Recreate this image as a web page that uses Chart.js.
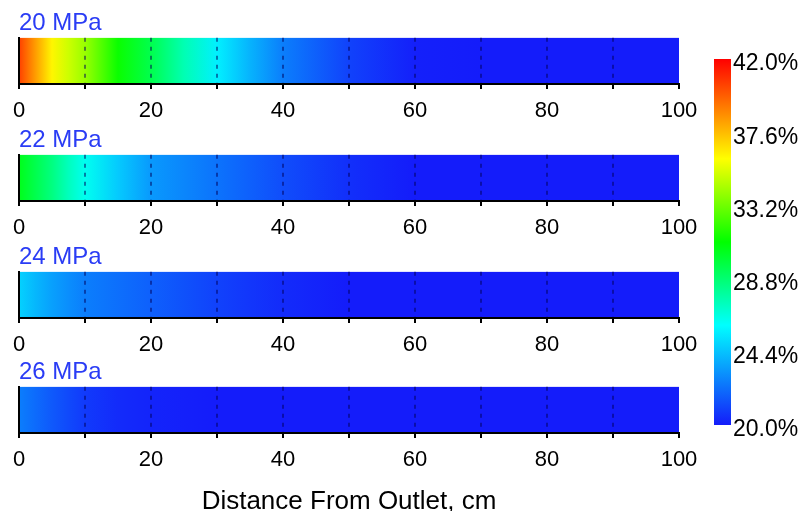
<!doctype html>
<html lang="en">
<head>
<meta charset="utf-8">
<title>Fraction along distance from outlet</title>
<script src="https://cdn.jsdelivr.net/npm/chart.js@4.4.0/dist/chart.umd.min.js"></script>
<style>
  body { margin: 0; background: #fff; }
  #wrap { position: relative; width: 803px; height: 511px; overflow: hidden; }
  #wrap canvas { position: absolute; }
</style>
</head>
<body>
<div id="wrap">
  <canvas id="strip0" width="720" height="124" style="left:0;top:0"></canvas>
  <canvas id="strip1" width="720" height="124" style="left:0;top:117px"></canvas>
  <canvas id="strip2" width="720" height="124" style="left:0;top:234px"></canvas>
  <canvas id="strip3" width="720" height="170" style="left:0;top:349px"></canvas>
  <canvas id="cbar" width="103" height="511" style="left:700px;top:0"></canvas>
</div>
<script>
  // sample positions along the core (cm) and the value read at each one (%)
  const distance = [0, 2.5, 5, 7.5, 10, 15, 20, 25, 30, 35, 40, 50, 60, 70, 80, 90, 100];
  const pressures = ['20 MPa', '22 MPa', '24 MPa', '26 MPa'];
  const frac20 = [40.5, 38.3, 36.2, 35.0, 34.0, 31.2, 29.5, 27.5, 25.6, 24.0, 22.6, 21.0, 20.1, 20.0, 20.0, 20.0, 20.0];
  const frac22 = [30.5, 29.5, 28.5, 27.3, 26.3, 24.6, 23.3, 22.8, 22.3, 21.8, 21.3, 20.5, 20.0, 20.0, 20.0, 20.0, 20.0];
  const frac24 = [24.8, 24.1, 23.5, 23.0, 22.6, 22.2, 21.8, 21.4, 21.0, 20.7, 20.4, 20.0, 20.0, 20.0, 20.0, 20.0, 20.0];
  const frac26 = [22.6, 22.1, 21.6, 21.2, 20.8, 20.4, 20.2, 20.1, 20.0, 20.0, 20.0, 20.0, 20.0, 20.0, 20.0, 20.0, 20.0];
  const series = [frac20, frac22, frac24, frac26];
  const majorTicks = [0, 20, 40, 60, 80, 100];
  const scaleTicks = [20.0, 24.4, 28.8, 33.2, 37.6, 42.0];

  // jet-like colour map shared by the strips and the colour bar
  const cmapAt = [20, 26, 31, 36, 42];
  const cmapRgb = [[20, 28, 250], [0, 255, 255], [0, 255, 0], [255, 255, 0], [255, 0, 0]];

  function rgb(c) {
    return 'rgb(' + c.map(Math.round).join(',') + ')';
  }

  function colourFor(v) {
    if (v <= cmapAt[0]) return rgb(cmapRgb[0]);
    for (let i = 1; i < cmapAt.length; i++) {
      if (v <= cmapAt[i]) {
        const t = (v - cmapAt[i - 1]) / (cmapAt[i] - cmapAt[i - 1]);
        const a = cmapRgb[i - 1], b = cmapRgb[i];
        return rgb(a.map((c, k) => c + (b[k] - c) * t));
      }
    }
    return rgb(cmapRgb[cmapRgb.length - 1]);
  }

  Chart.defaults.font.family = '"Liberation Sans", Arial, sans-serif';
  Chart.defaults.color = '#000';

  function stripChart(idx) {
    const values = series[idx];
    const last = idx === series.length - 1;
    new Chart(document.getElementById('strip' + idx), {
      type: 'bar',
      data: {
        labels: [''],
        datasets: [{
          data: [[distance[0], distance[distance.length - 1]]],
          // fill the bar with the measured profile, stops placed by the x scale
          backgroundColor: (ctx) => {
            const chart = ctx.chart;
            if (!chart.chartArea) return colourFor(values[0]);
            const x = chart.scales.x;
            const x0 = x.getPixelForValue(distance[0]);
            const x1 = x.getPixelForValue(distance[distance.length - 1]);
            const g = chart.ctx.createLinearGradient(x0, 0, x1, 0);
            distance.forEach((d, i) => {
              g.addColorStop((x.getPixelForValue(d) - x0) / (x1 - x0), colourFor(values[i]));
            });
            return g;
          },
          borderWidth: 0,
          barPercentage: 1,
          categoryPercentage: 1
        }]
      },
      options: {
        indexAxis: 'y',
        responsive: false,
        animation: false,
        devicePixelRatio: 1,
        layout: { padding: { left: 19, right: 41, top: 0, bottom: 0 } },
        plugins: {
          legend: { display: false },
          tooltip: { enabled: false },
          title: {
            display: true,
            text: pressures[idx],
            align: 'start',
            color: '#2a3cf5',
            font: { size: 24, weight: 'normal' },
            padding: { top: 9, bottom: 0 }
          }
        },
        scales: {
          x: {
            type: 'linear',
            min: 0,
            max: 100,
            afterFit: (s) => { s.height = last ? 86 : 40; },
            ticks: {
              stepSize: 10,
              autoSkip: false,
              maxRotation: 0,
              padding: 9,
              font: { size: 22 },
              color: '#000',
              callback: (v) => majorTicks.includes(v) ? String(v) : ''
            },
            grid: {
              color: (c) => (c.tick && (c.tick.value === 0 || c.tick.value === 100)) ? 'rgba(0,0,0,0)' : 'rgba(0,0,90,0.5)',
              lineWidth: 2,
              z: 1,
              drawTicks: true,
              tickLength: 5,
              tickColor: '#000',
              tickWidth: 2,
              tickBorderDash: []
            },
            border: { display: true, color: '#000', width: 2, dash: [4, 5], z: 1 },
            title: {
              display: last,
              text: 'Distance From Outlet, cm',
              font: { size: 26 },
              color: '#000',
              padding: { top: 0, bottom: 2 }
            }
          },
          y: {
            grid: { display: false, drawTicks: false },
            ticks: { display: false },
            border: { display: true, color: '#000', width: 2, z: 1 }
          }
        }
      }
    });
  }

  series.forEach((s, i) => stripChart(i));

  // colour bar
  new Chart(document.getElementById('cbar'), {
    type: 'bar',
    data: {
      labels: [''],
      datasets: [{
        data: [[scaleTicks[0], scaleTicks[scaleTicks.length - 1]]],
        backgroundColor: (ctx) => {
          const chart = ctx.chart;
          if (!chart.chartArea) return colourFor(scaleTicks[0]);
          const y = chart.scales.y;
          const y0 = y.getPixelForValue(scaleTicks[0]);
          const y1 = y.getPixelForValue(scaleTicks[scaleTicks.length - 1]);
          const g = chart.ctx.createLinearGradient(0, y0, 0, y1);
          cmapAt.forEach((v) => {
            g.addColorStop((y.getPixelForValue(v) - y0) / (y1 - y0), colourFor(v));
          });
          return g;
        },
        borderWidth: 0,
        barPercentage: 1,
        categoryPercentage: 1
      }]
    },
    options: {
      responsive: false,
      animation: false,
      devicePixelRatio: 1,
      layout: { padding: { left: 14, right: 0, top: 59, bottom: 86 } },
      plugins: { legend: { display: false }, tooltip: { enabled: false } },
      scales: {
        x: { display: false },
        y: {
          position: 'right',
          min: scaleTicks[0],
          max: scaleTicks[scaleTicks.length - 1],
          afterBuildTicks: (s) => { s.ticks = scaleTicks.map((v) => ({ value: v })); },
          afterFit: (s) => { s.width = 72; },
          grid: { display: false, drawTicks: false },
          border: { display: false },
          ticks: {
            padding: 2,
            labelOffset: 5,
            font: { size: 23 },
            color: '#000',
            callback: (v) => Number(v).toFixed(1) + '%'
          }
        }
      }
    }
  });
</script>
</body>
</html>
